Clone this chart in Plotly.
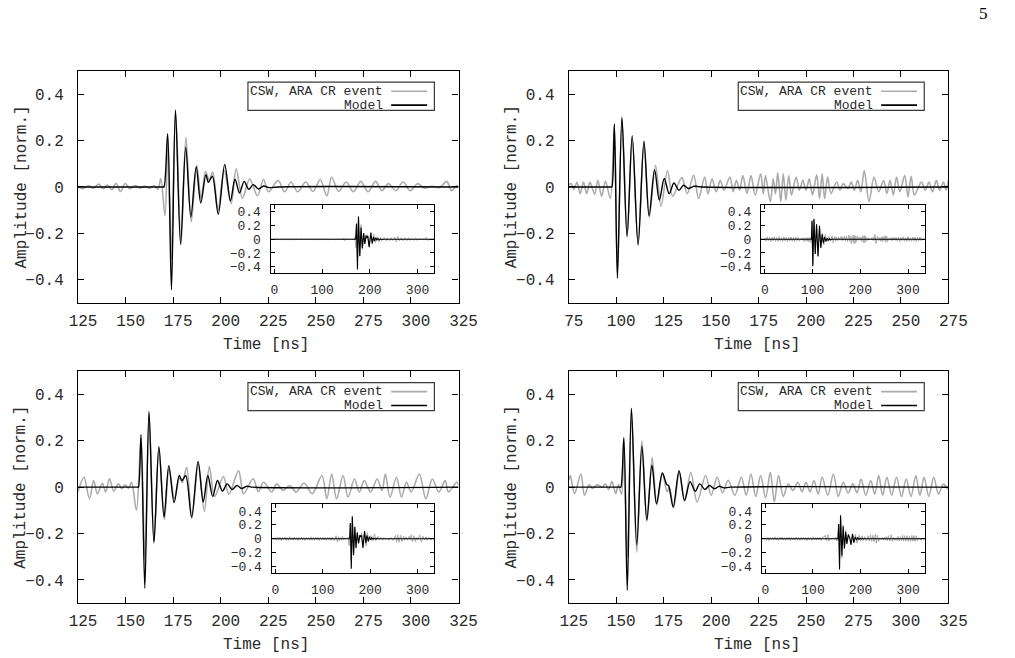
import numpy as np
import plotly.graph_objects as go

# ---------------- data ----------------
# Panel 1 (top-left)
p1_model_t = [125, 169.7, 170.2, 172.1, 174.1, 176.2, 178.9, 181.6, 184.3, 187.1, 189.5, 192.2, 193.5, 195.6,
              198.7, 202.1, 205.1, 207.5, 209.9, 212.3, 214.7, 217.1, 219.8, 222.5, 225.5, 230, 325]
p1_model_v = [0, 0, 0, 0.229, -0.443, 0.331, -0.246, 0.171, -0.129, 0.086, -0.069, 0.053, 0.02, 0.046,
              -0.117, 0.097, -0.06, 0.033, -0.026, 0.024, -0.01, 0.01, -0.009, 0.004, -0.003, 0, 0]
p1_data_t = [125, 127.5, 130.5, 133, 135.8, 138.3, 140.5, 142.8, 145, 147.3,
             149.8, 152.3, 155, 157.5, 160, 162.5, 165, 167, 168.5, 170.7,
             172.3, 174.0, 176.3, 179.1, 181.7, 184.5, 187.4, 189.7, 192.0, 194.0,
             195.8, 198.6, 201.8, 205.5, 208.1, 211.4, 215.2, 219.3, 222.5, 225.1,
             230.2, 233.6, 237.0, 240.4, 244.7, 248.5, 252.3, 255.8, 258.3, 262.0,
             265.9, 269.7, 273.6, 277.4, 281.3, 284.7, 288.1, 292.0, 295.8, 299.6,
             303.5, 307.0, 311.0, 315.0, 318.8, 321.3, 324.0, 325]
p1_data_v = [0.0, -0.008, 0.006, -0.006, 0.012, -0.008, 0.008, -0.012, 0.016, -0.02,
             0.015, -0.008, 0.006, -0.005, 0.004, -0.006, 0.006, -0.01, 0.036, -0.124,
             0.21, -0.31, 0.32, -0.25, 0.214, -0.15, 0.093, -0.05, 0.066, 0.03,
             0.064, -0.10, 0.07, -0.071, 0.078, -0.048, 0.034, -0.038, 0.032, -0.021,
             0.028, -0.021, 0.021, -0.021, 0.021, -0.02, 0.032, -0.038, 0.043, -0.02,
             0.021, -0.021, 0.024, -0.021, 0.024, -0.016, 0.014, -0.016, 0.021, -0.016,
             0.014, -0.005, 0.003, -0.003, 0.024, -0.016, 0.006, 0.0]
p1_inset_pre_v = [0.0, 0.008, -0.006, 0.01, -0.008, 0.006, -0.01, 0.012, -0.006, 0.004,
                  -0.008, 0.01, -0.012, 0.008, -0.004, 0.006, -0.01, 0.012, -0.008, 0.006,
                  -0.004, 0.01, -0.012, 0.014, -0.01, 0.006, -0.006, 0.008, -0.01, 0.012,
                  -0.008, 0.004, -0.006, 0.01, -0.012, 0.008, -0.006, 0.01, -0.008, 0.006,
                  -0.01, 0.012, -0.008, 0.004, -0.006, 0.008, -0.01, 0.006, -0.004, 0.002]
p1_inset_post_v = [-0.008, 0.0]
p1_xticks = [125, 150, 175, 200, 225, 250, 275, 300, 325]

# Panel 2 (top-right)
p2_model_t = [75, 97.3, 97.7, 99.0, 100.6, 103.0, 105.7, 108.4, 111.5, 114.6, 117.3, 120.2, 122.7,
              125.3, 127.9, 130.4, 133.0, 135.5, 138.1, 141, 145, 275]
p2_model_v = [0, 0, 0, 0.271, -0.393, 0.30, -0.214, 0.221, -0.25, 0.197, -0.124, 0.074, -0.057,
              0.036, -0.029, 0.017, -0.014, 0.007, -0.007, 0.003, 0, 0]
p2_data_t = [75.0, 76.4, 77.6, 79.3, 81.0, 82.7, 84.4, 86.1, 88.6, 90.3,
             92.3, 94.3, 96.9, 99.0, 100.6, 103.0, 105.7, 108.4, 111.5, 114.6,
             117.4, 120.7, 123.6, 127.0, 129.7, 134.5, 137.4, 140.8, 143.4, 146.6,
             148.3, 150.5, 152.7, 154.8, 156.8, 159.9, 161.6, 163.3, 165.0, 166.7,
             168.9, 171.0, 173.2, 176.1, 177.5, 178.6, 181.2, 182.7, 183.9, 185.1,
             186.7, 188.0, 189.4, 190.9, 192.3, 194.8, 196.5, 198.3, 200.0, 201.7,
             203.4, 205.6, 207.1, 208.5, 209.8, 211.4, 213.1, 216.2, 217.9, 219.6,
             222.1, 223.8, 225.5, 227.2, 228.9, 230.7, 233.2, 235.8, 238.3, 240.9,
             242.6, 244.3, 246.0, 247.7, 249.4, 252.0, 253.7, 255.4, 257.1, 260.8,
             262.9, 264.8, 266.6, 268.7, 270.4, 272.4, 273.8, 275.0]
p2_data_v = [0.010, 0.014, -0.011, 0.020, -0.029, 0.021, -0.029, 0.021, -0.031, 0.029,
             -0.040, 0.024, -0.050, 0.26, -0.37, 0.29, -0.21, 0.21, -0.24, 0.19,
             -0.13, 0.093, -0.083, 0.071, -0.040, 0.040, -0.029, 0.050, -0.050, 0.043,
             -0.030, 0.035, -0.021, 0.028, -0.014, 0.043, -0.021, 0.028, -0.014, 0.049,
             -0.028, 0.049, -0.035, 0.057, -0.030, 0.049, -0.064, 0.035, -0.030, 0.061,
             -0.064, 0.057, -0.057, 0.049, -0.035, 0.043, -0.014, 0.028, -0.014, 0.035,
             -0.035, 0.052, -0.050, 0.057, -0.050, 0.043, -0.028, 0.021, -0.014, 0.014,
             -0.007, 0.021, -0.014, 0.028, -0.021, 0.071, -0.064, 0.043, -0.021, 0.028,
             -0.028, 0.028, -0.035, 0.043, -0.021, 0.049, -0.043, 0.046, -0.035, 0.021,
             -0.014, 0.021, -0.021, 0.028, -0.014, 0.021, -0.014, 0.028]
p2_inset_pre_v = [0.02, -0.03, 0.035, -0.025, 0.03, -0.04, 0.028, -0.022, 0.038, -0.03,
                  0.025, -0.035, 0.04, -0.028, 0.022, -0.032, 0.036, -0.026, 0.03, -0.038,
                  0.028, -0.024, 0.034, -0.03, 0.026, -0.036, 0.03, -0.022, 0.028, -0.03]
p2_inset_post_v = [-0.025, 0.03, -0.035, 0.028, -0.022, 0.036, -0.03, 0.024, -0.034, 0.04, -0.028,
                   0.022, -0.03, 0.034, -0.026, 0.03, -0.036, 0.028, -0.024, 0.032, -0.02, 0.0]
p2_xticks = [75, 100, 125, 150, 175, 200, 225, 250, 275]

# Panel 3 (bottom-left)
p3_model_t = [125, 156.2, 156.7, 158.1, 160.1, 162.3, 164.9, 167.5, 170.2, 172.7, 175.5, 178.2, 179.6, 181.6,
              184.7, 188.1, 190.8, 193.2, 195.8, 198.3, 200.9, 203.4, 206.0, 208.5, 211.0, 213.7, 217, 325]
p3_model_v = [0, 0, 0, 0.226, -0.436, 0.326, -0.24, 0.174, -0.129, 0.093, -0.067, 0.051, 0.029, 0.05,
              -0.129, 0.111, -0.064, 0.05, -0.04, 0.029, -0.017, 0.014, -0.01, 0.007, -0.006, 0.004, 0, 0]
p3_data_t = [125.0, 128.1, 131.0, 133.2, 135.2, 137.8, 139.5, 141.5, 143.8, 146.3,
             148.0, 149.7, 151.5, 153.1, 155.7, 158.1, 160.1, 162.3, 164.9, 167.5,
             170.4, 172.8, 175.7, 178.3, 179.8, 182.1, 184.8, 188.2, 191.4, 194.0,
             196.8, 201.4, 204.3, 209.4, 212.0, 217.0, 219.8, 222.5, 226.8, 229.4,
             232.8, 236.2, 239.6, 243.8, 248.1, 253.2, 255.8, 258.3, 260.9, 264.3,
             266.9, 270.3, 272.8, 275.4, 278.8, 282.2, 284.8, 286.5, 289.0, 292.4,
             295.0, 297.6, 300.1, 304.4, 307.8, 311.2, 314.6, 318.0, 319.7, 324.0,
             325.0]
p3_data_v = [-0.020, 0.043, -0.050, 0.029, -0.029, 0.017, -0.021, 0.036, -0.017, 0.014,
             -0.007, 0.010, -0.005, 0.021, -0.100, 0.21, -0.31, 0.31, -0.23, 0.17,
             -0.14, 0.08, -0.05, 0.04, 0.02, 0.086, -0.135, 0.10, -0.105, 0.089,
             -0.040, 0.046, -0.030, 0.071, -0.029, 0.036, -0.020, 0.021, -0.021, 0.014,
             -0.014, 0.007, -0.021, 0.018, -0.028, 0.050, -0.050, 0.057, -0.050, 0.050,
             -0.043, 0.035, -0.021, 0.028, -0.021, 0.035, -0.014, 0.057, -0.043, 0.043,
             -0.043, 0.021, -0.021, 0.057, -0.050, 0.035, -0.021, 0.028, -0.021, 0.021,
             0.010]
p3_inset_pre_v = [0.01, -0.02, 0.025, -0.018, 0.022, -0.028, 0.02, -0.015, 0.026, -0.022,
                  0.018, -0.025, 0.03, -0.02, 0.015, -0.022, 0.026, -0.018, 0.02, -0.026,
                  0.02, -0.016, 0.024, -0.02, 0.018, -0.026, 0.022, -0.015, 0.02, -0.024,
                  0.028, -0.02, 0.016, -0.022, 0.025, -0.018, 0.022, -0.028, 0.02, -0.016,
                  0.024, -0.02, 0.018, -0.025, 0.022, -0.015, 0.02, -0.024, 0.026, -0.02]
p3_inset_post_v = [-0.015, 0.0]
p3_xticks = [125, 150, 175, 200, 225, 250, 275, 300, 325]

# Panel 4 (bottom-right)
p4_model_t = [125, 151.9, 152.4, 154.0, 155.8, 158.0, 160.8, 163.5, 166.1, 168.8, 171.2, 174.3, 176.7, 177.5,
              180.0, 183.1, 186.0, 188.9, 191.6, 194.0, 196.7, 199.1, 201.8, 204.3, 206.8, 210, 325]
p4_model_v = [0, 0, 0, 0.213, -0.444, 0.34, -0.248, 0.177, -0.142, 0.095, -0.071, 0.061, 0.01, 0.008,
              -0.085, 0.071, -0.057, 0.024, -0.018, 0.014, -0.01, 0.007, -0.007, 0.004, -0.003, 0, 0]
p4_data_t = [125.0, 125.8, 128.0, 131.4, 133.2, 135.7, 137.4, 140.0, 142.6, 144.3,
             146.0, 147.7, 149.7, 151.1, 152.8, 154.0, 155.8, 158.0, 160.8, 163.5,
             166.2, 168.9, 171.4, 174.3, 176.8, 178.0, 180.2, 183.2, 186.0, 189.3,
             192.6, 197.1, 200.0, 203.2, 206.0, 209.0, 212.5, 215.9, 218.5, 221.0,
             223.5, 226.1, 228.7, 231.2, 233.3, 235.5, 238.0, 240.6, 243.1, 245.7,
             247.9, 250.0, 252.1, 254.2, 256.4, 258.5, 261.5, 264.4, 267.0, 269.6,
             272.2, 274.7, 276.9, 279.0, 281.5, 284.1, 286.2, 288.3, 290.4, 292.6,
             295.1, 297.7, 300.3, 302.8, 305.3, 307.9, 310.0, 312.2, 314.7, 317.3,
             319.8, 322.4, 324.5, 325.0]
p4_data_v = [0.030, 0.050, -0.028, 0.057, -0.035, 0.010, -0.005, 0.010, 0.000, 0.014,
             -0.010, 0.024, -0.028, 0.010, -0.030, 0.20, -0.30, 0.33, -0.28, 0.20,
             -0.145, 0.128, -0.078, 0.060, -0.020, 0.000, -0.090, 0.065, -0.060, 0.064,
             -0.064, 0.050, -0.035, 0.043, -0.025, 0.030, -0.035, 0.043, -0.035, 0.057,
             -0.040, 0.050, -0.045, 0.064, -0.064, 0.050, -0.040, 0.014, -0.014, 0.021,
             -0.020, 0.021, -0.020, 0.028, -0.030, 0.043, -0.035, 0.057, -0.040, 0.021,
             -0.025, 0.014, -0.025, 0.035, -0.035, 0.028, -0.030, 0.050, -0.035, 0.043,
             -0.035, 0.043, -0.040, 0.035, -0.040, 0.050, -0.035, 0.043, -0.040, 0.043,
             -0.030, 0.014, -0.005, 0.005]
p4_inset_pre_v = [0.015, -0.022, 0.02, -0.026, 0.018, -0.015, 0.024, -0.02, 0.028, -0.022,
                  0.016, -0.024, 0.02, -0.018, 0.026, -0.02, 0.015, -0.025, 0.022, -0.016,
                  0.02, -0.028, 0.024, -0.018, 0.016, -0.022, 0.026, -0.02, 0.018, -0.024,
                  0.02, -0.016, 0.025, -0.022, 0.018, -0.026, 0.022, -0.018, 0.016, -0.024,
                  0.028, -0.02, 0.018, -0.022, 0.024, -0.016, 0.02, -0.026, 0.022, 0.03]
p4_inset_post_v = [-0.02, 0.0]
p4_xticks = [125, 150, 175, 200, 225, 250, 275, 300, 325]

y_ticks = [-0.4, -0.2, 0, 0.2, 0.4]
inset_xticks = [0, 100, 200, 300]
inset_step = 2.5
legend_labels = ["CSW, ARA CR event", "Model"]
x_title = "Time [ns]"
y_title = "Amplitude [norm.]"
page_number = "5"

# ---------------- styling / layout ----------------
W, H = 1015, 658
GRAY = "#ababab"
FONT = "Liberation Mono"
TXT = "#2a2a2a"

panels = [
    (p1_model_t, p1_model_v, p1_data_t, p1_data_v, p1_inset_pre_v, p1_inset_post_v, p1_xticks),
    (p2_model_t, p2_model_v, p2_data_t, p2_data_v, p2_inset_pre_v, p2_inset_post_v, p2_xticks),
    (p3_model_t, p3_model_v, p3_data_t, p3_data_v, p3_inset_pre_v, p3_inset_post_v, p3_xticks),
    (p4_model_t, p4_model_v, p4_data_t, p4_data_v, p4_inset_pre_v, p4_inset_post_v, p4_xticks),
]

main_px_x = [(71, 462.3), (575.7, 966), (71, 462.3), (575.7, 966)]
main_px_y = [(71, 304), (71, 304), (372.3, 605), (372.3, 605)]
inset_px_x = [(269, 437.3), (773.3, 941.7), (270, 437.3), (774, 941.7)]
inset_px_y = [(205.7, 274.3), (205.7, 274.3), (505.7, 575), (505.7, 575)]
inset_range = [-8, 335]


def dx(a, b):
    return [a / W, b / W]


def dy(top, bottom):
    return [1 - bottom / H, 1 - top / H]


fig = go.Figure()
layout = dict(
    width=W, height=H, margin=dict(l=0, r=0, t=0, b=0),
    paper_bgcolor="white", plot_bgcolor="white", showlegend=False,
)

axis_common = dict(showline=True, linecolor="black", linewidth=1.2, mirror="ticks",
                   ticks="inside", tickcolor="black", tickwidth=1, showgrid=False,
                   zeroline=False, fixedrange=True)

annotations = []
shapes = []

for i, (mt, mv, dt, dv, pre, post, xticks) in enumerate(panels):
    m = i + 1
    n = i + 5
    xm = "x" if m == 1 else f"x{m}"
    ym = "y" if m == 1 else f"y{m}"
    xi, yi = f"x{n}", f"y{n}"

    # main traces
    fig.add_trace(go.Scatter(x=dt, y=dv, mode="lines", xaxis=xm, yaxis=ym,
                             line=dict(color=GRAY, width=1.6, shape="spline", smoothing=0.9)))
    fig.add_trace(go.Scatter(x=mt, y=mv, mode="lines", xaxis=xm, yaxis=ym,
                             line=dict(color="black", width=1.4, shape="spline", smoothing=0.9)))

    # inset traces
    pre_t = list(np.arange(0, dt[0], inset_step)[:len(pre)])
    post_t = list(dt[-1] + inset_step * np.arange(1, len(post) + 1))
    fig.add_trace(go.Scatter(x=pre_t + list(dt) + post_t, y=list(pre) + list(dv) + list(post),
                             mode="lines", xaxis=xi, yaxis=yi,
                             line=dict(color=GRAY, width=1.0)))
    fig.add_trace(go.Scatter(x=[inset_range[0]] + list(mt) + [inset_range[1]],
                             y=[0] + list(mv) + [0], mode="lines", xaxis=xi, yaxis=yi,
                             line=dict(color="black", width=1.1)))

    key = "" if m == 1 else str(m)
    layout["xaxis" + key] = dict(axis_common, domain=dx(*main_px_x[i]), anchor=ym,
                                 range=[xticks[0], xticks[-1]], tickvals=xticks, ticklen=6,
                                 ticklabelshift=5, ticklabelstandoff=3,
                                 tickfont=dict(family=FONT, size=16, color=TXT))
    layout["yaxis" + key] = dict(axis_common, domain=dy(*main_px_y[i]), anchor=xm,
                                 range=[-0.5, 0.5], tickvals=y_ticks, ticklen=6,
                                 ticklabelstandoff=10,
                                 tickfont=dict(family=FONT, size=16, color=TXT))
    layout[f"xaxis{n}"] = dict(axis_common, domain=dx(*inset_px_x[i]), anchor=yi,
                               range=inset_range, tickvals=inset_xticks, ticklen=4,
                               ticklabelstandoff=4,
                               tickfont=dict(family=FONT, size=13, color=TXT))
    layout[f"yaxis{n}"] = dict(axis_common, domain=dy(*inset_px_y[i]), anchor=xi,
                               range=[-0.5, 0.5], tickvals=y_ticks, ticklen=4,
                               ticklabelstandoff=6,
                               tickfont=dict(family=FONT, size=13, color=TXT))

    # legend box (drawn by hand, gnuplot style)
    xref, yref = f"{xm} domain", f"{ym} domain"
    shapes.append(dict(type="rect", xref=xref, yref=yref, x0=0.4465, x1=0.9365,
                       y0=0.8295, y1=0.951, line=dict(color="#3a3a3a", width=1.2),
                       fillcolor="white", layer="above"))
    for row, (lab, col, yy) in enumerate(zip(legend_labels, [GRAY, "black"], [0.912, 0.852])):
        annotations.append(dict(xref=xref, yref=yref, x=0.8076, y=yy, text=lab, showarrow=False,
                                xanchor="right", yanchor="middle",
                                font=dict(family=FONT, size=13, color=TXT)))
        shapes.append(dict(type="line", xref=xref, yref=yref, x0=0.8229, x1=0.9174, y0=yy, y1=yy,
                           line=dict(color=col, width=1.6), layer="above"))

    # axis titles
    cx = (main_px_x[i][0] + main_px_x[i][1]) / 2 - 2
    cy = (main_px_y[i][0] + main_px_y[i][1]) / 2
    annotations.append(dict(xref="paper", yref="paper", x=cx / W, y=1 - (main_px_y[i][1] + 42) / H,
                            text=x_title, showarrow=False, xanchor="center", yanchor="middle",
                            font=dict(family=FONT, size=16, color=TXT)))
    annotations.append(dict(xref="paper", yref="paper", x=(main_px_x[i][0] - 58) / W, y=1 - cy / H,
                            text=y_title, showarrow=False, textangle=-90, xanchor="center",
                            yanchor="middle", font=dict(family=FONT, size=16, color=TXT)))

annotations.append(dict(xref="paper", yref="paper", x=1002 / W, y=1 - 14 / H, text=page_number,
                        showarrow=False, xanchor="center", yanchor="middle",
                        font=dict(family="Liberation Serif", size=17, color="black")))

layout["annotations"] = annotations
layout["shapes"] = shapes
fig.update_layout(**layout)
fig.write_html("out.html")
